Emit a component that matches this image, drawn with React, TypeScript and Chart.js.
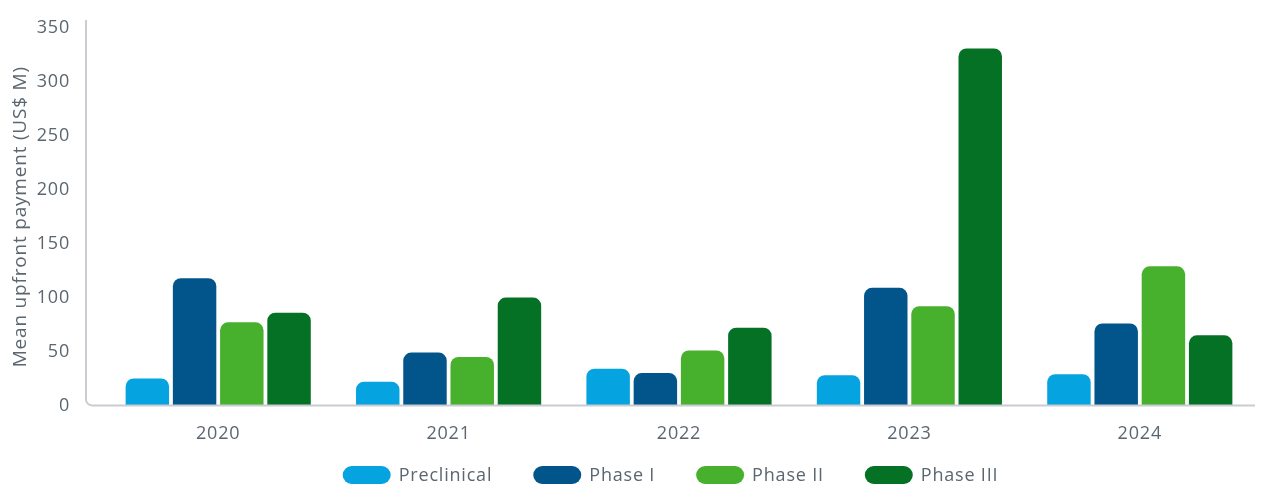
import React, { useEffect, useRef } from "react";
import { Chart, registerables } from "chart.js";

Chart.register(...registerables);

const years = ["2020", "2021", "2022", "2023", "2024"];
const preclinical = [25, 22, 34, 28, 29];
const phase1 = [118, 49, 30, 109, 76];
const phase2 = [77, 45, 51, 92, 129];
const phase3 = [86, 100, 72, 331, 65];
const seriesNames = ["Preclinical", "Phase I", "Phase II", "Phase III"];
const seriesColors = ["#05a3df", "#02558a", "#47b02d", "#057124"];
const yTitle = "Mean upfront payment (US$ M)";

const TEXT = "#5b6670";
const AXIS = "#c9ccd1";
const FONT = "'Open Sans'";
const SPACING = "0.8px";
const AXIS_INSET = 17;

const spacingPlugin = {
  id: "letterSpacing",
  beforeUpdate(chart: any) {
    chart.ctx.letterSpacing = SPACING;
  },
  beforeLayout(chart: any) {
    chart.ctx.letterSpacing = SPACING;
  },
  beforeDraw(chart: any) {
    chart.ctx.letterSpacing = SPACING;
  },
};

const axisPlugin = {
  id: "roundedAxis",
  afterDatasetsDraw(chart: any) {
    const { ctx, chartArea } = chart;
    const x0 = chartArea.left - AXIS_INSET;
    const y0 = chart.scales.y.getPixelForValue(0);
    const top = chartArea.top - 8;
    const right = chartArea.right;
    const r = 6;
    ctx.save();
    ctx.strokeStyle = AXIS;
    ctx.lineWidth = 2;
    ctx.beginPath();
    ctx.moveTo(x0, top);
    ctx.lineTo(x0, y0 - r);
    ctx.arcTo(x0, y0, x0 + r, y0, r);
    ctx.lineTo(right, y0);
    ctx.stroke();
    ctx.restore();
  },
};

// Simple legend drawn beneath the axis with pill-shaped swatches
const pillLegend = {
  id: "pillLegend",
  afterDraw(chart: any) {
    const { ctx, chartArea } = chart;
    const boxW = 48;
    const boxH = 18;
    const textGap = 8;
    const itemGap = 41;
    const cy = chart.height - 10;
    ctx.save();
    ctx.letterSpacing = SPACING;
    ctx.font = `18px ${FONT}`;
    const items = chart.data.datasets.map((ds: any) => ({
      text: ds.label,
      color: ds.backgroundColor,
      w: boxW + textGap + ctx.measureText(ds.label).width,
    }));
    const total = items.reduce((s: number, it: any) => s + it.w, 0) + itemGap * (items.length - 1);
    let x = (chartArea.left - AXIS_INSET + chartArea.right) / 2 - total / 2;
    ctx.textBaseline = "middle";
    ctx.textAlign = "left";
    for (const it of items) {
      ctx.fillStyle = it.color;
      ctx.beginPath();
      ctx.roundRect(x, cy - boxH / 2, boxW, boxH, boxH / 2);
      ctx.fill();
      ctx.fillStyle = TEXT;
      ctx.fillText(it.text, x + boxW + textGap, cy + 1);
      x += it.w + itemGap;
    }
    ctx.restore();
  },
};

export default function App() {
  const ref = useRef<HTMLCanvasElement>(null);
  useEffect(() => {
    document.body.style.margin = "0";
    const data = [preclinical, phase1, phase2, phase3];
    const chart = new Chart(ref.current!, {
      type: "bar",
      data: {
        labels: years,
        datasets: seriesNames.map((n, i) => ({
          label: n,
          data: data[i],
          backgroundColor: seriesColors[i],
          borderRadius: 8,
          borderSkipped: "start" as const,
          categoryPercentage: 0.82,
          barPercentage: 0.92,
        })),
      },
      options: {
        animation: false,
        responsive: true,
        maintainAspectRatio: false,
        layout: { padding: { top: 28, right: 14, left: 9, bottom: 30 } },
        plugins: {
          tooltip: { enabled: false },
          legend: { display: false },
        },
        scales: {
          x: {
            grid: { display: false },
            border: { display: false },
            ticks: { color: TEXT, font: { family: FONT, size: 18 }, padding: 10 },
          },
          y: {
            min: 0,
            max: 350,
            grid: { display: false },
            border: { display: false },
            afterFit(scale: any) {
              scale.width = 94;
              scale.paddingTop = 10;
              scale.paddingBottom = 10;
            },
            ticks: {
              stepSize: 50,
              color: TEXT,
              font: { family: FONT, size: 18 },
              padding: 8 + AXIS_INSET,
            },
            title: {
              display: true,
              text: yTitle,
              color: TEXT,
              font: { family: FONT, size: 19 },
              padding: 0,
            },
          },
        },
      },
      plugins: [spacingPlugin, axisPlugin, pillLegend],
    });
    return () => chart.destroy();
  }, []);
  return (
    <div style={{ width: 1269, height: 485, position: "relative" }}>
      <canvas ref={ref} />
    </div>
  );
}
